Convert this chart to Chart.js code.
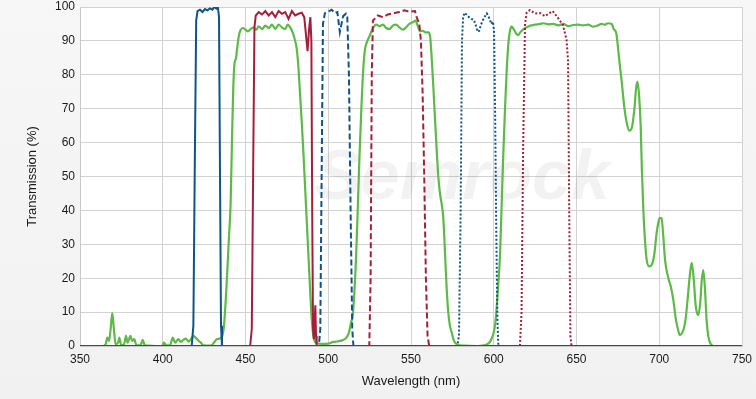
<!DOCTYPE html>
<html>
<head>
<meta charset="utf-8">
<script src="https://cdn.jsdelivr.net/npm/chart.js@4.4.1/dist/chart.umd.min.js"></script>
<style>
  html, body { margin: 0; padding: 0; }
  body { background: linear-gradient(to bottom, #f7f7f7, #f1f1f1); width: 756px; height: 399px; }
  #wrap { width: 756px; height: 399px; }
</style>
</head>
<body>
<div id="wrap"><canvas id="myChart" width="756" height="399"></canvas></div>
<script>
'use strict';

// axis ticks
let xTicks = [350, 400, 450, 500, 550, 600, 650, 700, 750];
let yTicks = [0, 10, 20, 30, 40, 50, 60, 70, 80, 90, 100];

// blue solid filter
let blueSolidNm = [350, 417.5, 418.5, 419.3, 420.2, 421, 422.5, 424, 425.5, 427, 428.5, 430, 431.2, 432.4, 433.3, 434, 434.6, 435.2, 435.8, 750];
let blueSolidT = [0, 0, 6, 50, 96, 98.8, 99.2, 98.5, 99.4, 99, 99.6, 99.2, 100, 99.5, 100, 97, 50, 6, 0, 0];

// red solid filter
let redSolidNm = [350, 452.8, 453.8, 454.6, 455.4, 456.2, 458, 460, 462, 464, 466, 468, 470, 472, 474, 476, 478, 480, 482, 484, 485.5, 486.5, 487.5, 488.5, 489.2, 489.8, 490.3, 490.8, 491.3, 491.8, 492.2, 492.6, 493, 750];
let redSolidT = [0, 0, 5, 50, 94, 97.5, 98.5, 97.8, 98.8, 97.5, 98.5, 97, 98.8, 98, 98.5, 96.5, 98.8, 97.5, 98, 98.3, 97, 92, 87, 94, 97, 90, 40, 5, 2, 8, 12, 3, 0, 0];

// blue dashed filter
let blueDashNm = [350, 494.3, 495.2, 496, 496.8, 498, 500, 502, 504, 505.5, 507, 508, 509, 510.7, 511.5, 512.5, 513.5, 514.5, 515.2, 750];
let blueDashT = [0, 0, 5, 50, 95, 98.2, 98.6, 99.2, 98.2, 98.5, 92.6, 95, 97.3, 98, 97, 80, 40, 5, 0, 0];

// red dashed filter
let redDashNm = [350, 524.8, 525.6, 526.3, 527, 530, 533, 536, 540, 543, 546, 549, 552.4, 553.4, 555, 556, 557, 558, 559, 560, 561, 750];
let redDashT = [0, 0, 20, 80, 96, 97.5, 97, 97.8, 98.2, 98.5, 99, 98.6, 98.8, 97, 95, 90, 75, 50, 20, 3, 0, 0];

// blue dotted filter
let blueDotNm = [350, 578, 579, 580, 580.8, 581.5, 582.3, 583.5, 585, 586.5, 588, 589.2, 590.2, 591.2, 592.2, 593.5, 595, 595.8, 596.8, 597.7, 598.5, 599.5, 600.2, 600.8, 601.5, 602.2, 602.8, 750];
let blueDotT = [0, 0, 3, 40, 90, 97, 98.3, 97.8, 97, 96.5, 96.2, 94.5, 92.7, 93, 94.7, 96.2, 97.5, 98.1, 97.2, 96.2, 95, 95.7, 93, 70, 35, 8, 0, 0];

// red dotted filter
let redDotNm = [350, 615.8, 616.8, 617.8, 618.9, 619.9, 621.9, 624.9, 628, 631, 633.5, 635.6, 638.8, 641.8, 644, 644.9, 645.6, 646.3, 647, 750];
let redDotT = [0, 0, 10, 60, 95, 98.4, 99.1, 98.1, 98.2, 97.3, 98.2, 98.8, 96.8, 94.7, 90.3, 84, 40, 3, 0, 0];

// green multiband filter
let greenNm = [350, 364, 365.5, 366.5, 367.5, 368.5, 369.5, 370.5, 371.5, 373, 373.8, 374.8, 376.5, 377.8, 378.8, 380.5, 381.5, 382.8, 384, 386.5, 387.9, 389.2, 399.5, 400.8, 402, 404.5, 406, 407.5, 409.5, 411, 412.4, 414, 415.5, 417, 418.5, 420, 421.5, 423, 424.5, 429, 431, 432.6, 434.5, 436, 437, 438, 439, 440, 441, 441.8, 442.6, 443.4, 444.2, 445, 446, 447, 448.5, 450, 451.5, 453, 455, 456.5, 458, 460, 462, 464, 466, 468, 470, 472, 474, 475.5, 477, 478.5, 480, 481, 482, 483, 484, 485, 486, 487, 488, 489, 490, 491, 492, 493.5, 496, 500, 503, 506, 509, 511, 512.5, 513.8, 514.8, 515.8, 516.8, 517.8, 518.8, 520, 521.2, 522.2, 523.5, 525, 527, 529, 531, 533, 535, 537, 539, 541, 543, 545, 547, 549, 551, 552.8, 554, 555.5, 557, 559, 560.5, 561.5, 562.5, 563.5, 564.5, 565.5, 566.5, 567.5, 568.5, 569.5, 570.5, 571.5, 572.5, 573.5, 574.6, 576, 578, 582, 590, 594, 596, 597.7, 599, 600, 601, 602, 603, 603.8, 604.8, 605.8, 606.8, 607.8, 608.8, 609.8, 610.8, 612, 613.5, 614.9, 616, 618, 620, 622, 625, 628, 630, 633, 636, 639, 642, 645, 648, 651, 654, 657, 660, 663, 665, 667, 669, 671.3, 672.5, 674, 675.7, 677.3, 679, 680.5, 682, 683.5, 685, 686, 686.8, 687.8, 688.8, 689.5, 690.4, 691.4, 692.4, 694, 695.4, 697, 698.4, 699.5, 700.3, 701.4, 702.5, 703.5, 705.5, 707, 708.5, 710, 711.5, 712.5, 714, 715.6, 717, 718.5, 719.6, 720.8, 722, 723.6, 724.8, 725.6, 726.6, 727.6, 728.6, 729.6, 730.7, 732.7, 750];
let greenT = [0, 0, 0.5, 2.5, 1.5, 5, 9.7, 5, 0.5, 1, 2.5, 0.3, 0.3, 3, 1, 3, 1.5, 2, 0.3, 0.2, 1.8, 0.2, 0, 1, 0.2, 0.3, 2.5, 1, 2, 1.2, 1.8, 2.2, 1.3, 2, 3, 2.4, 1.6, 1, 0.2, 0.1, 1, 2, 2.2, 3, 6, 13, 22, 32, 42, 60, 76, 83.5, 84.8, 88, 91.5, 93.2, 93.8, 93.3, 92.8, 93.5, 94, 93.3, 94.3, 93.5, 94.5, 93.8, 94.8, 93.5, 94.8, 94, 93.5, 94.8, 94, 92.5, 90, 87.5, 82, 74, 66, 57, 47, 37, 27, 17, 8, 3, 1.2, 0.8, 0.6, 0.7, 1.2, 1.4, 1.8, 2.5, 4, 7, 9, 16, 26, 40, 55, 70, 82, 87.5, 89.8, 91.5, 93.8, 94.8, 94.3, 94.8, 93.8, 93.5, 94.5, 94.8, 94, 93.3, 94, 95, 95.5, 96, 94.5, 92.8, 93, 92.5, 92.5, 91.5, 85, 76.5, 67, 58, 50, 45, 42, 38, 28, 17.5, 10, 6, 4, 1.5, 0.4, 0.1, 0, 0.2, 0.5, 1.2, 2.5, 4, 7, 13, 20, 27, 42, 57, 70, 81, 89, 93, 94.2, 93.5, 92.2, 91.7, 92.5, 93.5, 94, 94.5, 94.8, 95, 95.2, 94.9, 95, 94.6, 95, 94.4, 94.7, 94.8, 94.6, 94.8, 94.2, 94.6, 95, 94.8, 95.2, 95, 93.5, 92.3, 85, 78, 70, 65.5, 63.5, 64.5, 70, 76, 78, 74, 64.7, 52, 40, 31, 25.4, 23.5, 23.9, 27, 33.3, 36.5, 37.8, 37.7, 32, 25.4, 20, 17.5, 13.6, 8, 4.5, 3.2, 4, 6.8, 13, 21, 24.5, 20, 12, 9.1, 13, 19, 22.4, 17, 7.7, 3, 1, 0, 0];

const blue = '#0f5489';
const red = '#a41f3b';
const green = '#5cba47';

function toPoints(nm, t) {
  let pts = [];
  for (let i = 0; i < nm.length; i++) {
    pts.push({ x: nm[i], y: t[i] });
  }
  return pts;
}

function lineSet(nm, t, color, dash, width) {
  return {
    data: toPoints(nm, t),
    borderColor: color,
    borderWidth: width,
    borderDash: dash,
    pointRadius: 0,
    tension: 0,
    fill: false
  };
}

// white plot area + faint logo watermark
const plotBackground = {
  id: 'plotBackground',
  beforeDraw(chart) {
    const { ctx, chartArea } = chart;
    ctx.save();
    ctx.fillStyle = '#ffffff';
    ctx.fillRect(chartArea.left, chartArea.top, chartArea.right - chartArea.left, chartArea.bottom - chartArea.top);
    ctx.restore();
  },
  beforeDatasetsDraw(chart) {
    const { ctx } = chart;
    ctx.save();
    ctx.font = 'italic bold 70px "Liberation Sans", Arial, sans-serif';
    ctx.fillStyle = 'rgba(0, 0, 0, 0.05)';
    ctx.textAlign = 'center';
    ctx.textBaseline = 'middle';
    ctx.fillText('Semrock', 462, 180);
    ctx.restore();
  }
};

const data = {
  datasets: [
    lineSet(redDotNm, redDotT, red, [2, 2], 2),
    lineSet(blueDotNm, blueDotT, blue, [2, 2], 2),
    lineSet(redDashNm, redDashT, red, [6, 3], 2),
    lineSet(blueDashNm, blueDashT, blue, [6, 3], 2),
    lineSet(redSolidNm, redSolidT, red, [], 2),
    lineSet(blueSolidNm, blueSolidT, blue, [], 2),
    Object.assign(lineSet(greenNm, greenT, green, [], 2.2), { tension: 0.3, cubicInterpolationMode: 'monotone' })
  ]
};

const config = {
  type: 'line',
  data: data,
  plugins: [plotBackground],
  options: {
    responsive: false,
    animation: false,
    layout: { padding: 0 },
    plugins: {
      legend: { display: false },
      tooltip: { enabled: false }
    },
    scales: {
      x: {
        type: 'linear',
        min: 350,
        max: 750,
        afterBuildTicks: (scale) => { scale.ticks = xTicks.map(v => ({ value: v })); },
        afterFit: (scale) => { scale.height = 53; scale.paddingLeft = 0; scale.paddingRight = 14; },
        grid: { color: '#d2d2d2', drawTicks: false },
        border: { color: '#c8c8c8' },
        ticks: { padding: 6, color: '#1a1a1a', font: { family: '"Liberation Sans", Arial, sans-serif', size: 12 } },
        title: {
          display: true,
          text: 'Wavelength (nm)',
          color: '#1a1a1a',
          font: { family: '"Liberation Sans", Arial, sans-serif', size: 13 },
          padding: { top: 4, bottom: 10 }
        }
      },
      y: {
        min: 0,
        max: 100,
        afterBuildTicks: (scale) => { scale.ticks = yTicks.map(v => ({ value: v })); },
        afterFit: (scale) => { scale.width = 80; scale.paddingTop = 7; scale.paddingBottom = 0; },
        grid: { color: '#d2d2d2', drawTicks: false },
        border: { color: '#c8c8c8' },
        ticks: { padding: 5, color: '#1a1a1a', font: { family: '"Liberation Sans", Arial, sans-serif', size: 12 } },
        title: {
          display: true,
          text: 'Transmission (%)',
          color: '#1a1a1a',
          font: { family: '"Liberation Sans", Arial, sans-serif', size: 13 },
          padding: { top: 25, bottom: 0 }
        }
      }
    }
  }
};

const myChart = new Chart(document.getElementById('myChart'), config);
</script>
</body>
</html>
